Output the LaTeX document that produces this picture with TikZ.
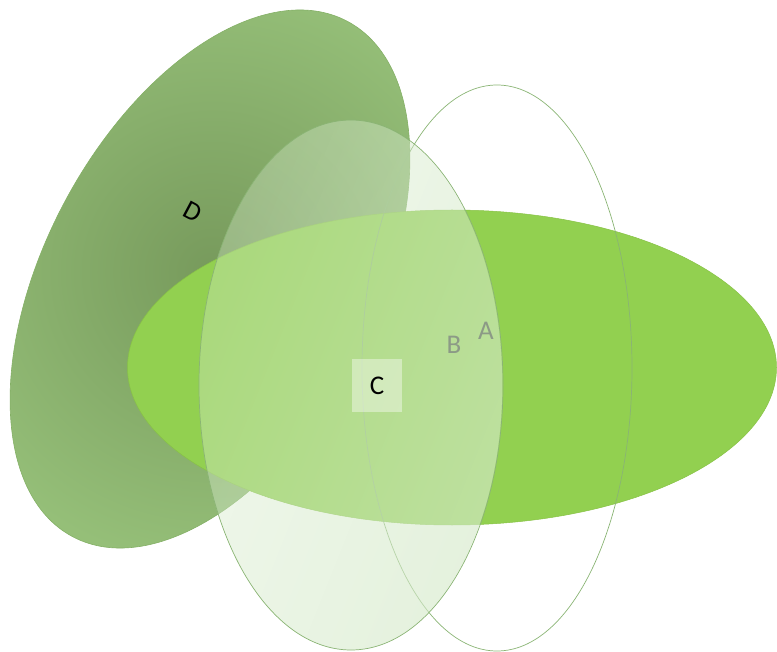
\documentclass[tikz,border=0pt]{standalone}
\usepackage{fontspec}
\setmainfont{Carlito}
\usetikzlibrary{fadings}
\definecolor{lgreen}{HTML}{92D050}
\definecolor{lgedge}{HTML}{88C246}
\definecolor{dlight}{HTML}{A6D488}
\definecolor{ddark}{HTML}{779A5C}
\definecolor{dedge}{HTML}{84B066}
\definecolor{ringedge}{HTML}{8AB474}
\definecolor{bfill}{HTML}{D6EACB}
\definecolor{lblgray}{HTML}{8C9A86}
\tikzfading[name=bfade, left color=transparent!100, right color=transparent!55]
\begin{document}
\begin{tikzpicture}[x=1pt,y=-1pt,
  lbl/.style={font=\fontsize{27}{30}\selectfont, inner sep=0pt},
  ring/.style={draw=ringedge, line width=0.7pt}]
\useasboundingbox (0,0) rectangle (777,652);
% D ellipse with radial darkening
\begin{scope}
  \clip[rotate around={61.9:(210,279)}] (210,279) ellipse [x radius=292pt, y radius=164.5pt];
  \shade[inner color=ddark, outer color=dlight] (212,272) circle (460pt);
\end{scope}
\draw[dedge, line width=0.6pt, rotate around={61.9:(210,279)}] (210,279) ellipse [x radius=292pt, y radius=164.5pt];
% green horizontal ellipse
\fill[lgreen, draw=lgedge, line width=0.5pt] (452,367.5) ellipse [x radius=324.5pt, y radius=157.5pt];
% A outline
\draw[ring] (497,368) ellipse [x radius=135pt, y radius=283pt];
% B translucent ellipse
\fill[bfill, fill opacity=0.36] (351,385) ellipse [x radius=152pt, y radius=265pt];
\fill[bfill, path fading=bfade, fading angle=-35] (351,385) ellipse [x radius=152pt, y radius=265pt];
\draw[ring] (351,385) ellipse [x radius=152pt, y radius=265pt];
% labels
\node[lbl, text=lblgray] (A) at (486,331) {A};
\node[lbl, text=lblgray] (B) at (454,345) {B};
\node[lbl, fill=white, fill opacity=0.4, text opacity=1, minimum width=50pt, minimum height=53pt] (C) at (377,386) {C};
\node[lbl, rotate=-28] (D) at (193,212) {D};
\end{tikzpicture}
\end{document}
